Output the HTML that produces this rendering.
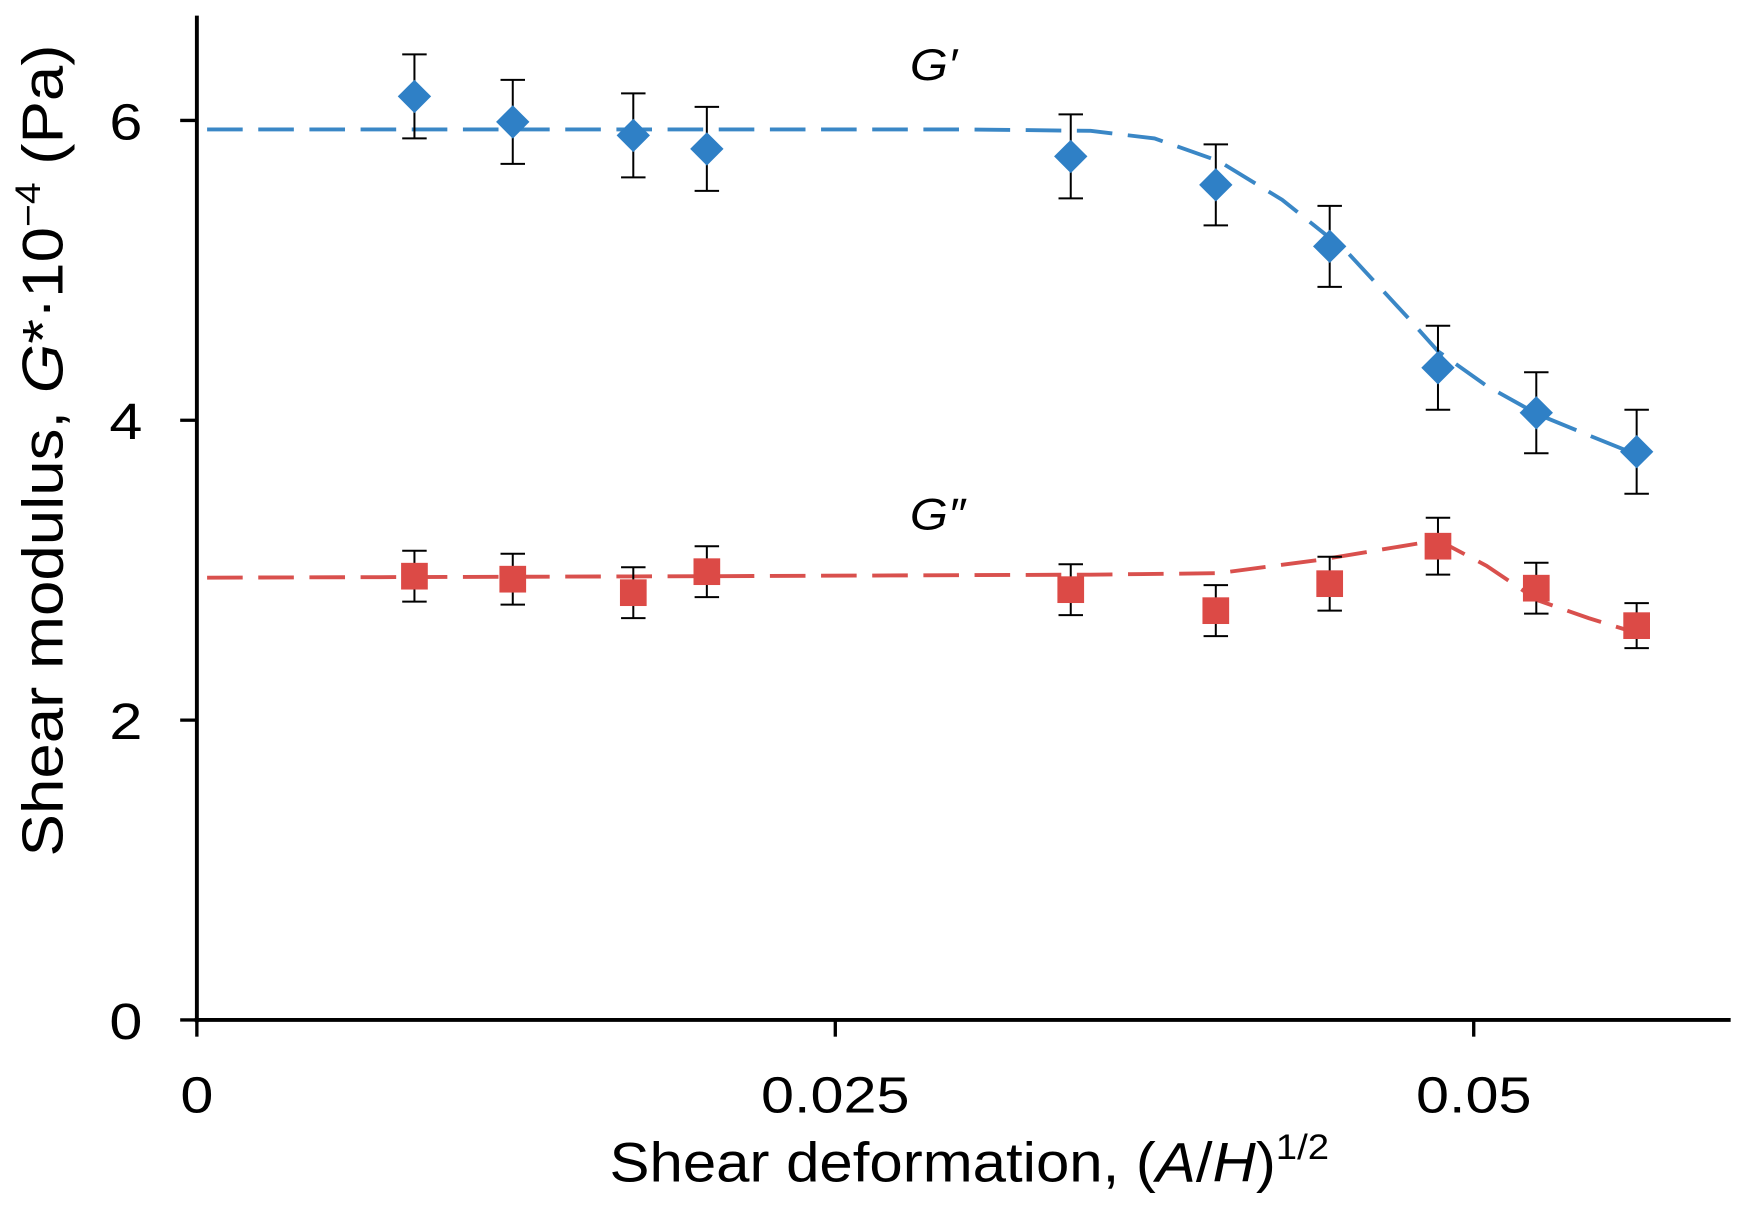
<!DOCTYPE html>
<html><head><meta charset="utf-8"><style>
html,body{margin:0;padding:0;background:#fff;}
svg{display:block;font-family:"Liberation Sans",Arial,sans-serif;}
</style></head><body>
<svg id="chart" width="1744" height="1208" viewBox="0 0 1568 1086"></svg>
<script>
const xVals = [0.00852,0.01237,0.01709,0.01997,0.03422,0.0399,0.04436,0.0486,0.05245,0.05638];
const gPrime = [6.16,5.99,5.90,5.81,5.76,5.57,5.16,4.35,4.05,3.79];
const gPrimeErr = [0.28,0.28,0.28,0.28,0.28,0.27,0.27,0.28,0.27,0.28];
const gDouble = [2.96,2.94,2.85,2.99,2.87,2.73,2.91,3.16,2.88,2.63];
const gDoubleErr = [0.17,0.17,0.17,0.17,0.17,0.17,0.18,0.19,0.17,0.15];
const fitPrimeX = [0.0004,0.01,0.02,0.03,0.035,0.0375,0.04,0.0425,0.045,0.0475,0.0486,0.0505,0.0525,0.0545,0.0564];
const fitPrimeY = [5.94,5.94,5.94,5.94,5.93,5.88,5.73,5.47,5.13,4.67,4.46,4.23,4.04,3.90,3.77];
const fitDoubleX = [0.0004,0.02,0.035,0.04,0.044,0.0486,0.0505,0.0525,0.0545,0.0564];
const fitDoubleY = [2.95,2.96,2.97,2.98,3.07,3.20,3.03,2.80,2.68,2.58];
const xTicks = [0,0.025,0.05];
const xTickLabels = ["0","0.025","0.05"];
const yTicks = [0,2,4,6];
const yTickLabels = ["0","2","4","6"];

const NS="http://www.w3.org/2000/svg";
const svg=document.getElementById('chart');
const X=v=>177+v*22960;
const Y=v=>917-v*134.8;
function mk(tag,attrs,parent){const e=document.createElementNS(NS,tag);for(const k in attrs)e.setAttribute(k,attrs[k]);(parent||svg).appendChild(e);return e;}

let ax=mk('line',{x1:177,y1:14,x2:177,y2:919,stroke:'#000','stroke-width':3.5});


ax=mk('line',{x1:175,y1:917,x2:1556,y2:917,stroke:'#000','stroke-width':3.5});



xTicks.forEach((t,i)=>{
  const l=mk('line',{x1:X(t),y1:917,x2:X(t),y2:932,stroke:'#000','stroke-width':3});
  
  
  const tx=mk('text',{x:0,y:0,'font-size':46,'text-anchor':'middle',transform:`translate(${X(t)},1000) scale(1.16,1)`});
  tx.textContent=xTickLabels[i];
  
  
});
yTicks.forEach((t,i)=>{
  const l=mk('line',{x1:162,y1:Y(t),x2:177,y2:Y(t),stroke:'#000','stroke-width':3});
  
  
  const tx=mk('text',{x:0,y:0,'font-size':46,'text-anchor':'end',transform:`translate(128,${Y(t)+17}) scale(1.16,1)`});
  tx.textContent=yTickLabels[i];
  
  
});

function fit(xs,ys,color,name){
  const d=xs.map((x,i)=>(i?'L':'M')+X(x).toFixed(1)+' '+Y(ys[i]).toFixed(1)).join(' ');
  const p=mk('path',{d:d,fill:'none',stroke:color,'stroke-width':3.5,'stroke-dasharray':'32 14'});
  
  
}
fit(fitPrimeX,fitPrimeY,'#3a87c6','g-prime-fit-line');
fit(fitDoubleX,fitDoubleY,'#d9504d','g-double-prime-fit-line');

function errs(vals,errv,name){
  vals.forEach((v,i)=>{
    const g=mk('g',{stroke:'#000','stroke-width':1.8});
    
    
    const x=X(xVals[i]),y1=Y(v+errv[i]),y2=Y(v-errv[i]);
    mk('line',{x1:x,y1:y1,x2:x,y2:y2},g);
    mk('line',{x1:x-11,y1:y1,x2:x+11,y2:y1},g);
    mk('line',{x1:x-11,y1:y2,x2:x+11,y2:y2},g);
  });
}
errs(gPrime,gPrimeErr,'g-prime-error-bar');
errs(gDouble,gDoubleErr,'g-double-prime-error-bar');

gPrime.forEach((v,i)=>{
  const x=X(xVals[i]),y=Y(v),r=15;
  const p=mk('polygon',{points:`${x},${y-r} ${x+r},${y} ${x},${y+r} ${x-r},${y}`,fill:'#2f80c6'});
  
  
});
gDouble.forEach((v,i)=>{
  const x=X(xVals[i]),y=Y(v),s=24;
  const p=mk('rect',{x:x-s/2,y:y-s/2,width:s,height:s,fill:'#dc4a46'});
  
  
});

let t=mk('text',{x:0,y:0,'font-size':40,'font-style':'italic',transform:'translate(818,72) scale(1.1,1)'});
t.textContent='G′';


t=mk('text',{x:0,y:0,'font-size':40,'font-style':'italic',transform:'translate(818,476) scale(1.1,1)'});
t.textContent='G″';



t=mk('text',{x:548,y:1062,'font-size':50,textLength:647,lengthAdjust:'spacingAndGlyphs'});
t.innerHTML='Shear deformation, (<tspan font-style="italic">A</tspan>/<tspan font-style="italic">H</tspan>)<tspan font-size="32" dy="-20">1/2</tspan>';


t=mk('text',{x:-770,y:0,'font-size':52,textLength:730,lengthAdjust:'spacingAndGlyphs',transform:'translate(56,0) rotate(-90)'});
t.innerHTML='Shear modulus, <tspan font-style="italic">G</tspan>*·10<tspan font-size="32" dy="-20">−4</tspan><tspan dy="20"> (Pa)</tspan>';


</script>
</body></html>
